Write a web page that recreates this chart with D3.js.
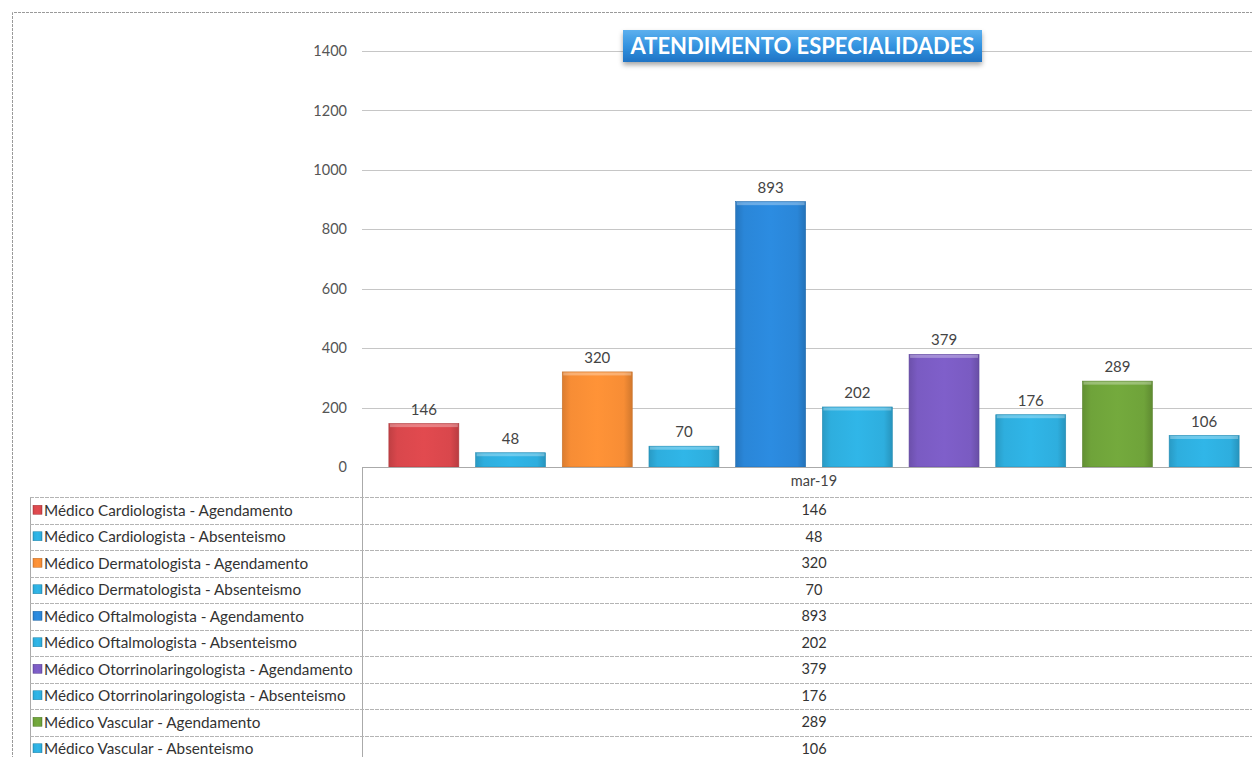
<!DOCTYPE html>
<html><head><meta charset="utf-8">
<script src="https://cdn.jsdelivr.net/npm/d3@7"></script>
<style>
html,body{margin:0;padding:0;background:#fff;}
svg{display:block;font-family:Lato,"Open Sans",sans-serif;}
</style></head>
<body>
<svg id="c" width="1252" height="757"></svg>
<script>
const title = "ATENDIMENTO ESPECIALIDADES";
const period = "mar-19";
const series = [
  "Médico Cardiologista - Agendamento",
  "Médico Cardiologista - Absenteismo",
  "Médico Dermatologista - Agendamento",
  "Médico Dermatologista - Absenteismo",
  "Médico Oftalmologista - Agendamento",
  "Médico Oftalmologista - Absenteismo",
  "Médico Otorrinolaringologista - Agendamento",
  "Médico Otorrinolaringologista - Absenteismo",
  "Médico Vascular - Agendamento",
  "Médico Vascular - Absenteismo"
];
const values = [146, 48, 320, 70, 893, 202, 379, 176, 289, 106];
const yTicks = [0, 200, 400, 600, 800, 1000, 1200, 1400];
const palette = ["#d9474c", "#2eaede", "#f78d35", "#2eaede", "#2a86d8", "#2eaede", "#7a5bc2", "#2eaede", "#6fa33a", "#2eaede"];

const svg = d3.select("#c");
const W = 1252, H = 757;
const plotL = 362, plotR = 1266, plotT = 51, plotB = 467;
const tableL = 30, rowTop = 497, rowH = 26.5;

// gradients
const defs = svg.append("defs");
palette.forEach((c, i) => {
  const g = defs.append("linearGradient").attr("id", "g" + i).attr("x1", 0).attr("x2", 1).attr("y1", 0).attr("y2", 0);
  const base = d3.color(c);
  g.append("stop").attr("offset", "0%").attr("stop-color", base.darker(0.35));
  g.append("stop").attr("offset", "12%").attr("stop-color", base);
  g.append("stop").attr("offset", "50%").attr("stop-color", base.brighter(0.12));
  g.append("stop").attr("offset", "88%").attr("stop-color", base);
  g.append("stop").attr("offset", "100%").attr("stop-color", base.darker(0.45));
});
const tg = defs.append("linearGradient").attr("id", "tg").attr("x1", 0).attr("x2", 0).attr("y1", 0).attr("y2", 1);
tg.append("stop").attr("offset", "0%").attr("stop-color", "#5db0ee");
tg.append("stop").attr("offset", "50%").attr("stop-color", "#3393e0");
tg.append("stop").attr("offset", "100%").attr("stop-color", "#1f73c4");
const sh = defs.append("filter").attr("id", "sh").attr("x", "-10%").attr("y", "-30%").attr("width", "120%").attr("height", "180%");
sh.append("feDropShadow").attr("dx", 0).attr("dy", 3).attr("stdDeviation", 2.5).attr("flood-color", "#000").attr("flood-opacity", 0.35);

// outer border
svg.append("path").attr("d", `M12.5,${H+2} L12.5,12.5 L${W+2},12.5`).attr("fill", "none").attr("stroke", "#9a9a9a").attr("stroke-width", 1).attr("stroke-dasharray", "3,1");

const y = d3.scaleLinear().domain([0, 1400]).range([plotB, plotT]);
const x = d3.scaleBand().domain(series).range([plotL, plotR]).paddingInner(0.193).paddingOuter(0.31);

// gridlines
svg.append("g").selectAll("line").data(yTicks.filter(t => t > 0)).join("line")
  .attr("x1", plotL).attr("x2", W).attr("y1", d => Math.round(y(d)) + 0.5).attr("y2", d => Math.round(y(d)) + 0.5)
  .attr("stroke", "#c6c6c6").attr("stroke-width", 1);

// y axis labels
const yAxis = d3.axisLeft(y).tickValues(yTicks).tickFormat(d3.format("d")).tickSize(0).tickPadding(15);
const ya = svg.append("g").attr("transform", `translate(${plotL},0)`).call(yAxis);
ya.select(".domain").remove();
ya.selectAll("text").attr("font-size", 14.5).attr("fill", "#555").attr("font-family", "Lato,sans-serif");

// bars
svg.append("g").selectAll("rect").data(values).join("rect")
  .attr("x", (d, i) => x(series[i])).attr("width", x.bandwidth())
  .attr("y", d => y(d)).attr("height", d => plotB - y(d))
  .attr("fill", (d, i) => `url(#g${i})`)
  .attr("stroke", (d, i) => d3.color(palette[i]).darker(0.6)).attr("stroke-width", 0.6);
// bevel highlight top
svg.append("g").selectAll("rect").data(values).join("rect")
  .attr("x", (d, i) => x(series[i]) + 1).attr("width", x.bandwidth() - 2)
  .attr("y", d => y(d) + 0.5).attr("height", 3)
  .attr("fill", "#fff").attr("opacity", 0.3);

// value labels
svg.append("g").selectAll("text").data(values).join("text")
  .attr("x", (d, i) => x(series[i]) + x.bandwidth() / 2)
  .attr("y", d => y(d) - 9)
  .attr("text-anchor", "middle").attr("font-size", 15).attr("fill", "#444")
  .text(d => d);

// category axis line
svg.append("line").attr("x1", plotL).attr("x2", W).attr("y1", plotB + 0.5).attr("y2", plotB + 0.5).attr("stroke", "#aaa");
const center = (x.range()[0] + x.range()[1]) / 2;
svg.append("text").attr("x", center).attr("y", 486).attr("text-anchor", "middle")
  .attr("font-size", 14.5).attr("fill", "#444").text(period);

// data table
const tbl = svg.append("g");
tbl.append("line").attr("x1", plotL + 0.5).attr("x2", plotL + 0.5).attr("y1", plotB).attr("y2", H).attr("stroke", "#aaa");
tbl.append("line").attr("x1", tableL + 0.5).attr("x2", tableL + 0.5).attr("y1", rowTop).attr("y2", H).attr("stroke", "#aaa");
tbl.selectAll("line.h").data(series).join("line").attr("class", "h")
  .attr("x1", tableL).attr("x2", W).attr("y1", (d, i) => Math.round(rowTop + i * rowH) + 0.5).attr("y2", (d, i) => Math.round(rowTop + i * rowH) + 0.5)
  .attr("stroke", "#b4b4b4").attr("stroke-dasharray", "4,1");

const rows = tbl.selectAll("g.row").data(series).join("g").attr("class", "row")
  .attr("transform", (d, i) => `translate(0,${rowTop + i * rowH + rowH / 2})`);
rows.append("rect").attr("x", 33).attr("y", -5).attr("width", 9).attr("height", 9)
  .attr("fill", (d, i) => `url(#g${i})`).attr("stroke", (d, i) => d3.color(palette[i]).darker(0.8)).attr("stroke-width", 0.5);
rows.append("text").attr("x", 44).attr("y", 0).attr("dy", "0.35em")
  .attr("font-size", 15.3).attr("fill", "#333").attr("font-family", "Lato,sans-serif").text(d => d);
rows.append("text").attr("x", center).attr("y", 0).attr("dy", "0.35em").attr("text-anchor", "middle")
  .attr("font-size", 14.5).attr("fill", "#333").text((d, i) => values[i]);

// title
const tgG = svg.append("g").attr("transform", "translate(623,30)");
tgG.append("rect").attr("width", 359).attr("height", 32).attr("fill", "url(#tg)").attr("filter", "url(#sh)");
tgG.append("text").attr("x", 179.5).attr("y", 16).attr("dy", "0.36em").attr("text-anchor", "middle")
  .attr("font-size", 22).attr("font-weight", "bold").attr("fill", "#fff").attr("font-family", "Lato,sans-serif").text(title);
</script>
</body></html>
